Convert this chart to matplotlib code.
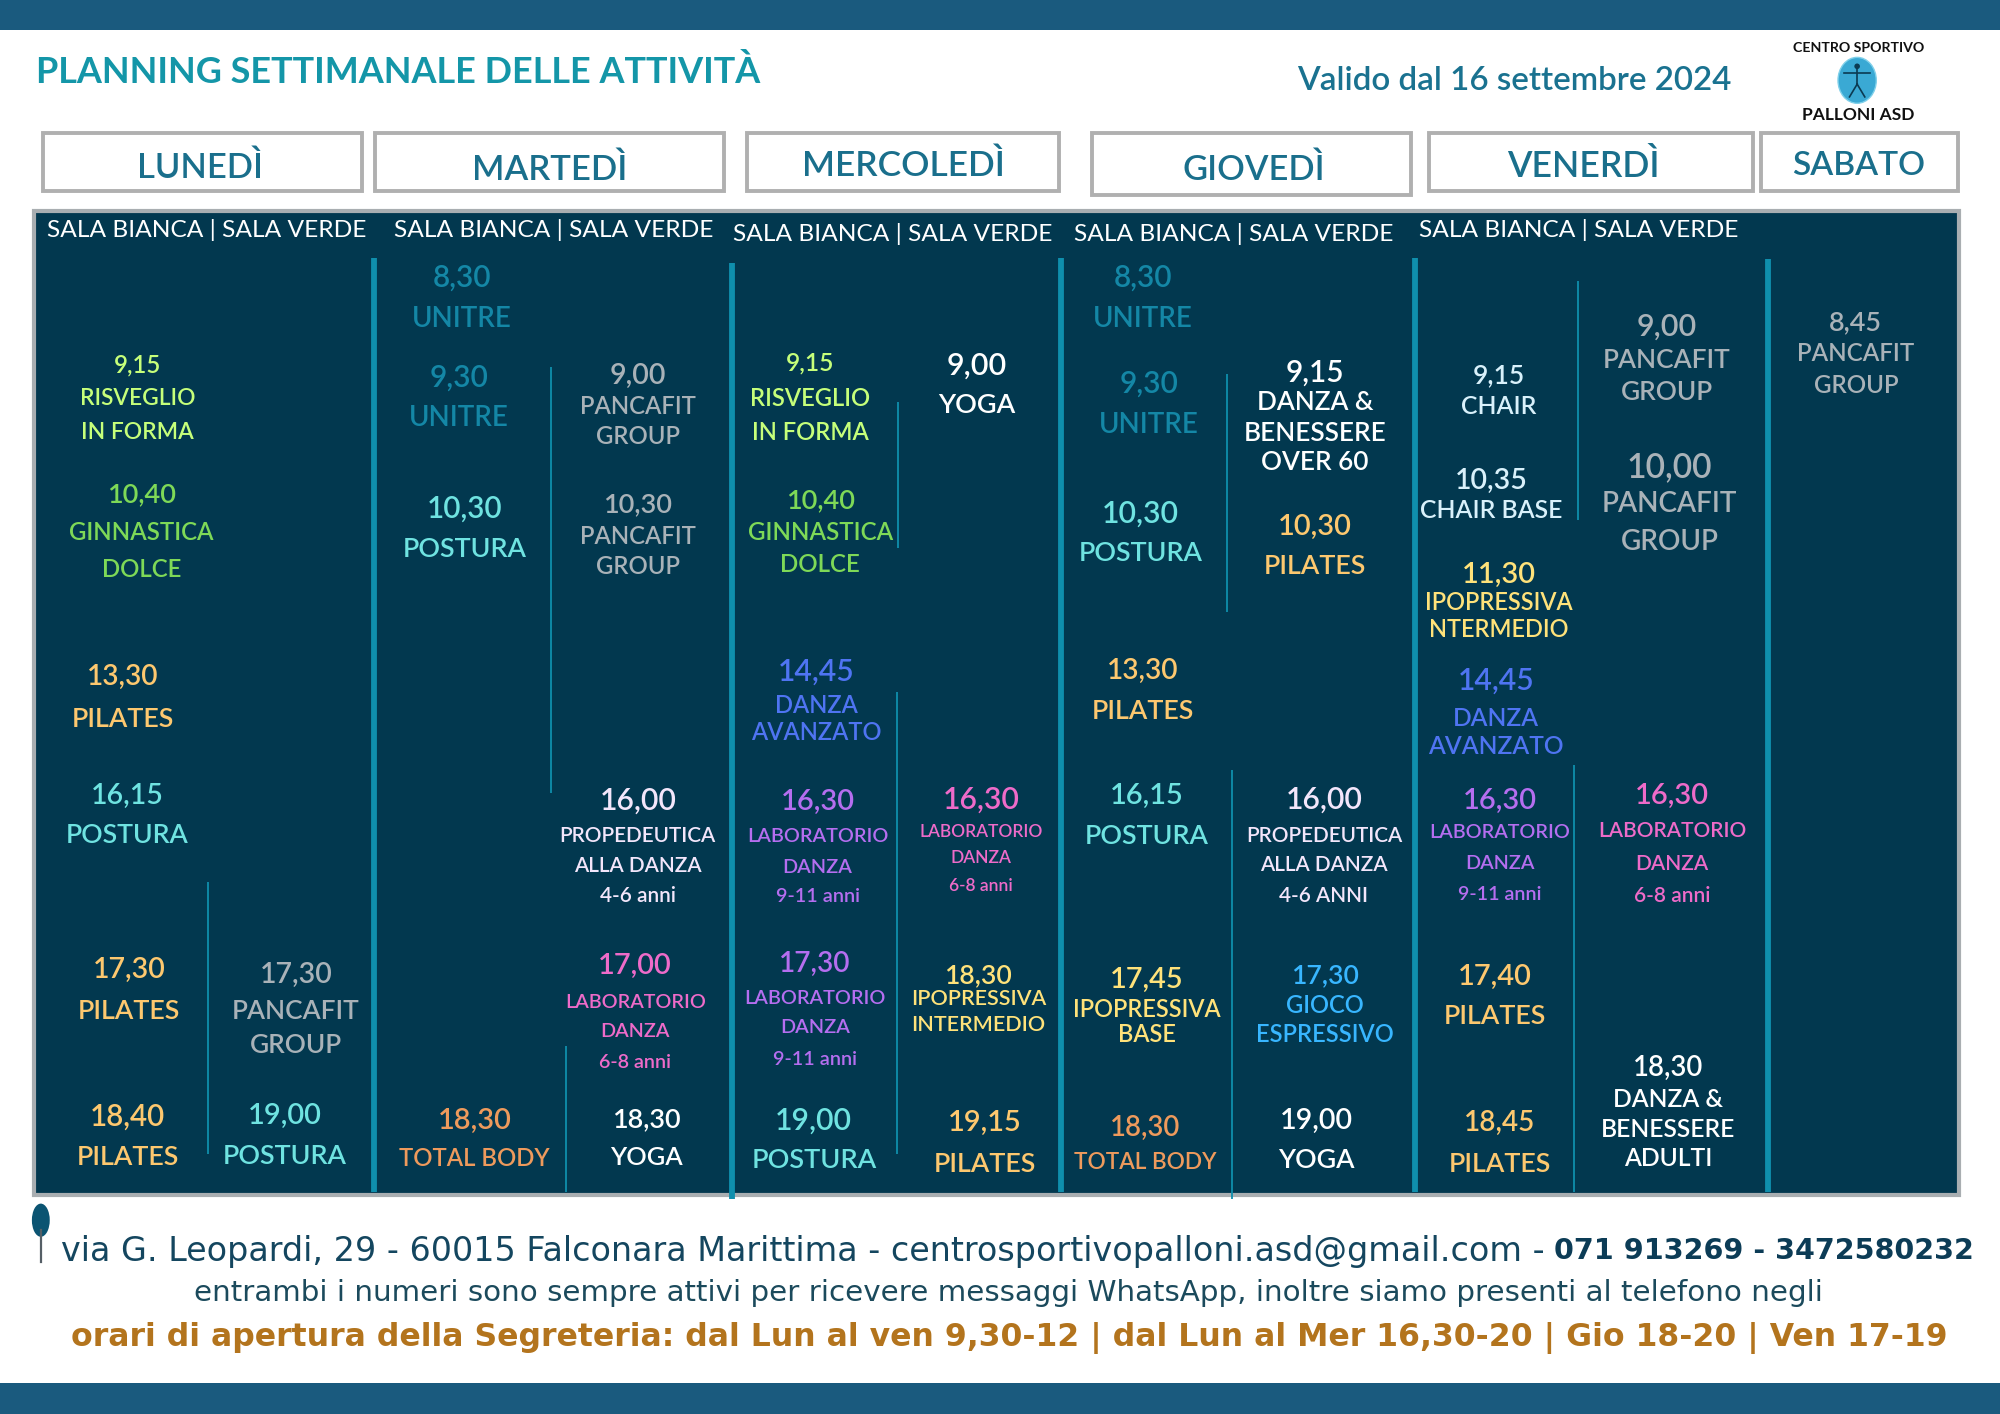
import matplotlib
matplotlib.use("Agg")
import matplotlib.pyplot as plt
from matplotlib.patches import Rectangle, Circle, Ellipse

# ---------- content ----------
TITLE = "PLANNING SETTIMANALE DELLE ATTIVITÀ"
VALID = "Valido dal 16 settembre 2024"
DAYS = ["LUNEDÌ", "MARTEDÌ", "MERCOLEDÌ", "GIOVEDÌ", "VENERDÌ", "SABATO"]
SALA = "SALA BIANCA | SALA VERDE"
FOOT1A = "via G. Leopardi, 29 - 60015 Falconara Marittima - centrosportivopalloni.asd@gmail.com -"
FOOT1B = "071 913269 - 3472580232"
FOOT2 = "entrambi i numeri sono sempre attivi per ricevere messaggi WhatsApp, inoltre siamo presenti al telefono negli"
FOOT3 = "orari di apertura della Segreteria: dal Lun al ven 9,30-12 | dal Lun al Mer 16,30-20 | Gio 18-20 | Ven 17-19"

LUNEDI = [["9,15", "RISVEGLIO", "IN FORMA"], ["10,40", "GINNASTICA", "DOLCE"], ["13,30", "PILATES"],
          ["16,15", "POSTURA"], ["17,30", "PILATES"], ["17,30", "PANCAFIT", "GROUP"],
          ["18,40", "PILATES"], ["19,00", "POSTURA"]]
MARTEDI = [["8,30", "UNITRE"], ["9,30", "UNITRE"], ["10,30", "POSTURA"], ["9,00", "PANCAFIT", "GROUP"],
           ["10,30", "PANCAFIT", "GROUP"], ["16,00", "PROPEDEUTICA", "ALLA DANZA", "4-6 anni"],
           ["17,00", "LABORATORIO", "DANZA", "6-8 anni"], ["18,30", "TOTAL BODY"], ["18,30", "YOGA"]]
MERCOLEDI = [["9,15", "RISVEGLIO", "IN FORMA"], ["9,00", "YOGA"], ["10,40", "GINNASTICA", "DOLCE"],
             ["14,45", "DANZA", "AVANZATO"], ["16,30", "LABORATORIO", "DANZA", "9-11 anni"],
             ["16,30", "LABORATORIO", "DANZA", "6-8 anni"], ["17,30", "LABORATORIO", "DANZA", "9-11 anni"],
             ["18,30", "IPOPRESSIVA", "INTERMEDIO"], ["19,00", "POSTURA"], ["19,15", "PILATES"]]
GIOVEDI = [["8,30", "UNITRE"], ["9,30", "UNITRE"], ["10,30", "POSTURA"],
           ["9,15", "DANZA &", "BENESSERE", "OVER 60"], ["10,30", "PILATES"], ["13,30", "PILATES"],
           ["16,15", "POSTURA"], ["16,00", "PROPEDEUTICA", "ALLA DANZA", "4-6 ANNI"],
           ["17,45", "IPOPRESSIVA", "BASE"], ["17,30", "GIOCO", "ESPRESSIVO"], ["18,30", "TOTAL BODY"], ["19,00", "YOGA"]]
VENERDI = [["9,15", "CHAIR"], ["10,35", "CHAIR BASE"], ["11,30", "IPOPRESSIVA", "NTERMEDIO"],
           ["14,45", "DANZA", "AVANZATO"], ["16,30", "LABORATORIO", "DANZA", "9-11 anni"],
           ["17,40", "PILATES"], ["18,45", "PILATES"], ["9,00", "PANCAFIT", "GROUP"],
           ["10,00", "PANCAFIT", "GROUP"], ["16,30", "LABORATORIO", "DANZA", "6-8 anni"],
           ["18,30", "DANZA &", "BENESSERE", "ADULTI"]]
SABATO = [["8,45", "PANCAFIT", "GROUP"]]

# ---------- styles ----------
BAR, PANEL, EDGE = "#1a5a7e", "#02384f", "#a9aeb1"
TEAL = "#0f8fad"
C = {"ris": "#c6ff7a", "gin": "#7ed957", "pil": "#fdc86f", "pos": "#6fe3e1", "pan": "#a9b2b8",
     "uni": "#1487a6", "wht": "#ffffff", "tot": "#ee9a5c", "dan": "#4f74f2", "lab": "#b56ef0",
     "pnk": "#ee6bc9", "ipo": "#ffe27a", "gio": "#38b6ff", "cha": "#d9f1fb", "pro": "#f3e6fb"}

# layout in 1568-wide reference units: colour key, x, line y's, time width, name width
LUNEDI_L = [("ris", 108, (285, 311, 338), 37, 90), ("gin", 111, (386, 416, 445), 54, 113), ("pil", 96, (529, 562), 56, 80),
            ("pos", 100, (622, 653), 57, 96), ("pil", 101, (759, 791), 57, 80), ("pan", 232, (763, 791, 818), 57, 100),
            ("pil", 100, (874, 906), 59, 80), ("pos", 223, (873, 905), 58, 97)]
MARTEDI_L = [("uni", 362, (216, 248), 46, 78), ("uni", 360, (294, 326), 46, 78), ("pos", 364, (397, 429), 59, 97),
             ("pan", 500, (293, 317, 341), 44, 91), ("pan", 500, (394, 419, 443), 54, 91),
             ("pro", 500, (626, 654, 678, 701), 60, 122), ("pnk", 498, (756, 785, 808, 832), 58, 110),
             ("tot", 372, (877, 907), 58, 118), ("wht", 507, (876, 906), 54, 57)]
MERCOLEDI_L = [("ris", 635, (283, 311, 338), 38, 94), ("wht", 766, (285, 316), 47, 61), ("gin", 643, (391, 416, 441), 54, 114),
               ("dan", 640, (525, 552, 573), 60, 102), ("lab", 641, (627, 655, 679, 702), 58, 111),
               ("pnk", 769, (625, 651, 672, 694), 60, 97), ("lab", 639, (754, 782, 805, 830), 56, 111),
               ("ipo", 767, (763, 782, 802), 53, 105), ("pos", 638, (877, 908), 60, 98), ("pil", 772, (879, 911), 58, 80)]
GIOVEDI_L = [("uni", 896, (216, 248), 46, 78), ("uni", 901, (299, 331), 46, 78), ("pos", 894, (401, 432), 60, 97),
             ("wht", 1031, (290, 314, 338, 361), 46, 110), ("pil", 1031, (411, 442), 58, 80), ("pil", 896, (524, 556), 56, 80),
             ("pos", 899, (622, 654), 58, 97), ("pro", 1038, (625, 654, 677, 701), 60, 122),
             ("ipo", 899, (767, 790, 810), 58, 115), ("gio", 1039, (763, 787, 810), 53, 107),
             ("tot", 898, (883, 910), 55, 112), ("wht", 1032, (877, 908), 57, 60)]
VENERDI_L = [("cha", 1175, (293, 317), 41, 59), ("cha", 1169, (375, 399), 57, 111), ("ipo", 1175, (449, 471, 492), 58, 115),
             ("dan", 1173, (532, 562, 584), 60, 106), ("lab", 1176, (626, 652, 676, 700), 58, 110),
             ("pil", 1172, (764, 795), 58, 80), ("pil", 1176, (879, 911), 56, 80), ("pan", 1307, (254, 281, 306), 47, 100),
             ("pan", 1309, (364, 393, 423), 67, 106), ("pnk", 1311, (622, 650, 676, 701), 58, 116),
             ("wht", 1308, (836, 861, 884, 907), 55, 104)]
SABATO_L = [("pan", 1455, (251, 276, 301), 42, 92)]

HEADER_BOX = [(33, 285, 151), (293, 569, 151), (585, 831, 151), (855, 1107, 154), (1119, 1375, 151), (1380, 1536, 151)]
HEADER_TXT = [(157, 129, 98), (431, 131, 121), (708, 128, 158), (983, 131, 111), (1241, 128, 119), (1457, 128, 104)]
SALA_POS = [(162, 179), (434, 179), (700, 182), (967, 182), (1238, 179)]
THICK = [(293, 202, 935), (574, 206, 940), (832, 202, 935), (1109, 202, 935), (1386, 203, 935)]
THIN = [(163, 692, 905), (432, 288, 622), (444, 820, 935), (704, 315, 430), (703, 543, 905),
        (962, 293, 480), (966, 604, 940), (1237, 220, 408), (1234, 600, 935)]

fig = plt.figure(figsize=(20, 14.14), dpi=100, facecolor="white")
ax = fig.add_axes([0, 0, 1, 1])
ax.set_xlim(0, 1568); ax.set_ylim(1109, 0); ax.axis("off")
r = fig.canvas.get_renderer()
K = 2000 / 1568

def size_for(strings, width, **kw):
    w = 0
    for s in strings:
        t = ax.text(0, 0, s, fontsize=10, **kw)
        w = max(w, t.get_window_extent(r).width)
        t.remove()
    return 10 * width * K / w

def put(x, y, s, width=None, ha="center", size=None, color="k", **kw):
    if size is None:
        size = size_for([s], width, **kw)
    return ax.text(x, y, s, fontsize=size, color=color, ha=ha, va="center_baseline", **kw)

# frame
ax.add_patch(Rectangle((0, 0), 1568, 23.5, fc=BAR, ec="none"))
ax.add_patch(Rectangle((0, 1085), 1568, 24, fc=BAR, ec="none"))
ax.add_patch(Rectangle((27, 165.5), 1508.5, 772, fc=PANEL, ec=EDGE, lw=3))

# titles
put(28, 54, TITLE, 570, ha="left", color="#1496a8", family="Lato", weight="bold")
put(1017, 61, VALID, 341, ha="left", color="#1a7290", family="Lato", weight="semibold")
put(1457, 37, "CENTRO SPORTIVO", 103, family="Lato", weight="bold", color="#111111")
put(1457, 89, "PALLONI ASD", 88, family="Lato", weight="bold", color="#111111")
ax.add_patch(Ellipse((1456, 63), 30, 36, fc="#3aa9d4", ec="#7fd0ea", lw=1))
ax.plot([1456, 1456], [53, 66], color="#0b3a52", lw=1.2)
ax.plot([1446, 1466], [57, 57], color="#0b3a52", lw=1.2)
ax.plot([1456, 1450], [66, 76], color="#0b3a52", lw=1.2)
ax.plot([1456, 1462], [66, 76], color="#0b3a52", lw=1.2)
ax.add_patch(Circle((1456, 52), 2.2, fc="#0b3a52", ec="none"))

# day headers
for (x0, x1, y1), (tx, ty, tw), d in zip(HEADER_BOX, HEADER_TXT, DAYS):
    ax.add_patch(Rectangle((x0 + 1, 104), x1 - x0 - 2, y1 - 105, fc="white", ec="#b0b0b0", lw=2.8))
    put(tx, ty, d, tw, color="#1a6f8c", family="Lato", weight="semibold")
for x, y in SALA_POS:
    put(x, y, SALA, 248, color="white", family="Lato", weight="regular")

# separators
for x, y0, y1 in THICK:
    ax.plot([x, x], [y0, y1], color=TEAL, lw=4.2, solid_capstyle="butt")
for x, y0, y1 in THIN:
    ax.plot([x, x], [y0, y1], color=TEAL, lw=1.3, solid_capstyle="butt")

# activities
for blocks, layout in [(LUNEDI, LUNEDI_L), (MARTEDI, MARTEDI_L), (MERCOLEDI, MERCOLEDI_L),
                       (GIOVEDI, GIOVEDI_L), (VENERDI, VENERDI_L), (SABATO, SABATO_L)]:
    for lines, (ck, x, ys, tw, nw) in zip(blocks, layout):
        kw = dict(family="Lato", weight="semibold")
        ns = size_for(lines[1:], nw, **kw)
        put(x, ys[0], lines[0], tw, color=C[ck], **kw)
        for s, y in zip(lines[1:], ys[1:]):
            put(x, y, s, size=ns, color=C[ck], **kw)

# footer
ax.add_patch(Ellipse((32, 957), 14, 26, fc="#0b5472", ec="none"))
ax.plot([32, 32], [965, 990], color="#555f66", lw=1.6)
put(48, 979, FOOT1A, 1162, ha="left", color="#14465f", family="DejaVu Sans")
put(1218, 979, FOOT1B, 330, ha="left", color="#0c3c56", family="DejaVu Sans", weight="bold")
put(791, 1012, FOOT2, 1278, color="#1b4a5c", family="DejaVu Sans")
put(791, 1046, FOOT3, 1475, color="#b3741d", family="DejaVu Sans", weight="bold")

fig.savefig("out.png", dpi=100, facecolor="white")
